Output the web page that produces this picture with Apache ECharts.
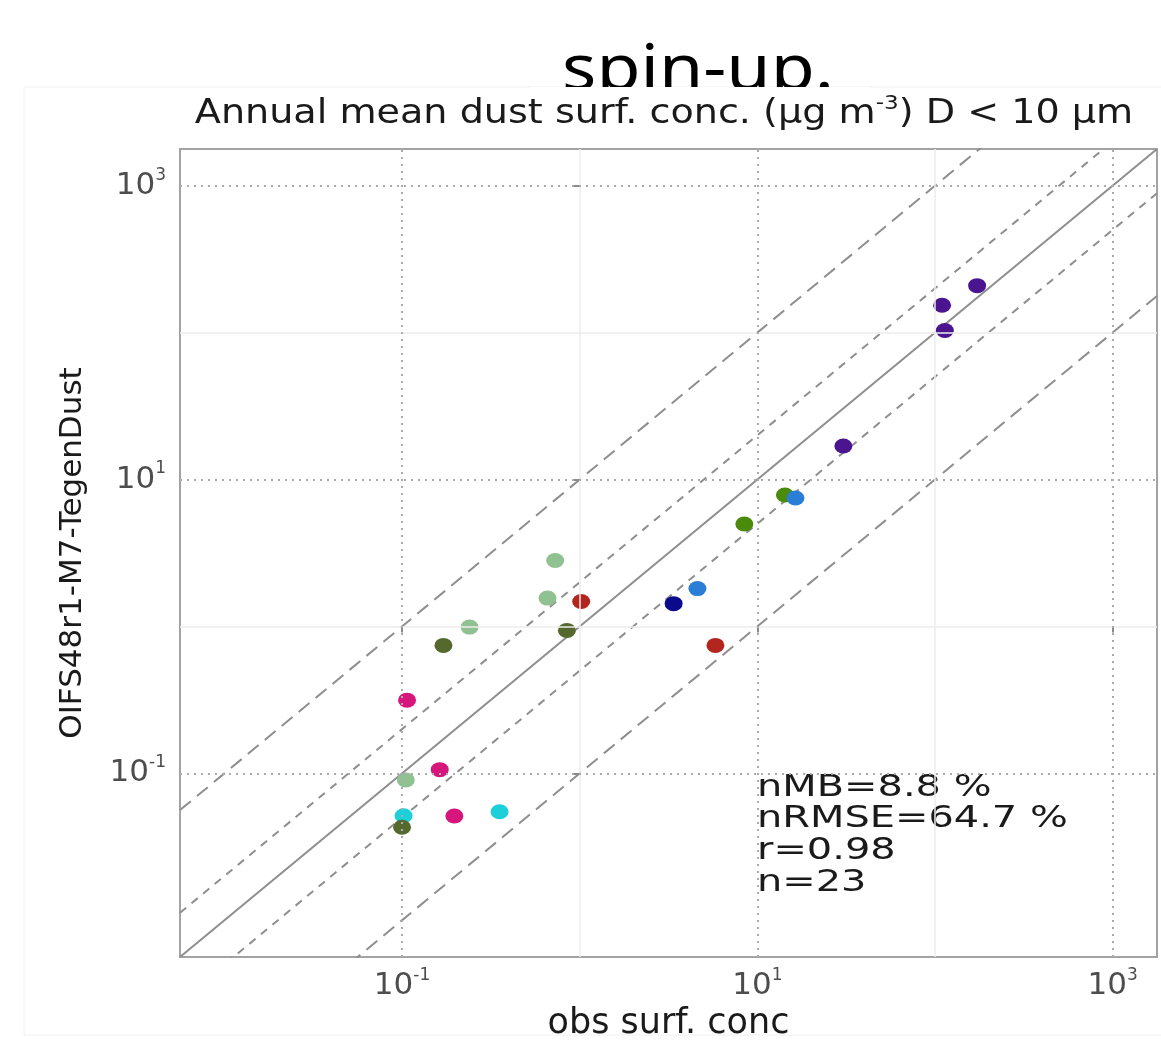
<!DOCTYPE html>
<html>
<head>
<meta charset="utf-8">
<script src="https://cdn.jsdelivr.net/npm/echarts@6/dist/echarts.min.js"></script>
<style>
html,body{margin:0;padding:0;background:#fff;}
#chart{width:1161px;height:1042px;}
</style>
</head>
<body>
<div id="chart"></div>
<script>
// ---- data (µg m-3) ----
const tickExponents = [-1, 1, 3];
const minorExponents = [0, 2];
const axisLimitsExp = [-2.25, 3.25];
const refFactors = [1, 2, 0.5, 10, 0.1];

const purpleObs = [172.7, 109.7, 113.7, 30.5];
const purpleMod = [208.9, 153.5, 103.3, 16.9];
const greenObs = [14.3, 8.45];
const greenMod = [7.84, 4.98];
const blueObs = [16.4, 4.60];
const blueMod = [7.48, 1.81];
const navyObs = [3.38];
const navyMod = [1.43];
const lightGreenObs = [0.728, 0.659, 0.240, 0.105];
const lightGreenMod = [2.81, 1.56, 0.99, 0.0901];
const redObs = [1.02, 5.81];
const redMod = [1.48, 0.743];
const magentaObs = [0.1067, 0.163, 0.197];
const magentaMod = [0.315, 0.106, 0.0513];
const cyanObs = [0.102, 0.354];
const cyanMod = [0.0515, 0.0548];
const oliveObs = [0.847, 0.171, 0.100];
const oliveMod = [0.94, 0.743, 0.0430];

const stats = ['nMB=8.8 %', 'nRMSE=64.7 %', 'r=0.98', 'n=23'];

const groups = [
  {name: 'purple', obs: purpleObs, mod: purpleMod, color: '#4b1590'},
  {name: 'green', obs: greenObs, mod: greenMod, color: '#4a8b0c'},
  {name: 'blue', obs: blueObs, mod: blueMod, color: '#2a7ed6'},
  {name: 'navy', obs: navyObs, mod: navyMod, color: '#0c0a8c'},
  {name: 'lightgreen', obs: lightGreenObs, mod: lightGreenMod, color: '#90c190'},
  {name: 'red', obs: redObs, mod: redMod, color: '#b3261f'},
  {name: 'magenta', obs: magentaObs, mod: magentaMod, color: '#d6167c'},
  {name: 'cyan', obs: cyanObs, mod: cyanMod, color: '#1ccfd8'},
  {name: 'olive', obs: oliveObs, mod: oliveMod, color: '#55692e'}
];

const lg = v => Math.log10(v);
const chart = echarts.init(document.getElementById('chart'));

const labelRich = {
  b: {fontFamily: 'DejaVu Sans', fontSize: 31, color: '#4d4d4d', lineHeight: 38},
  s: {fontFamily: 'DejaVu Sans', fontSize: 17, color: '#4d4d4d', verticalAlign: 'top', lineHeight: 38}
};
const expLabel = v => '{b|10}{s|' + Math.round(v) + '}';

const series = [];
// grid lines
series.push({
  type: 'line', data: [], z: 1, silent: true,
  markLine: {
    silent: true, symbol: 'none', label: {show: false}, animation: false,
    data: [].concat(
      minorExponents.map(e => ({xAxis: e, lineStyle: {color: '#ececec', width: 1.5, type: 'solid'}})),
      minorExponents.map(e => ({yAxis: e, lineStyle: {color: '#ececec', width: 1.5, type: 'solid'}})),
      tickExponents.map(e => ({xAxis: e, lineStyle: {color: '#ababab', width: 2, type: [2, 5]}})),
      tickExponents.map(e => ({yAxis: e, lineStyle: {color: '#ababab', width: 2, type: [2, 5]}}))
    )
  }
});
// reference lines (1:1, factor 2, factor 10)
refFactors.forEach(f => {
  const d = lg(f);
  let type = 'solid';
  if (Math.abs(Math.abs(d) - lg(2)) < 1e-6) type = [8, 7];
  if (Math.abs(Math.abs(d) - 1) < 1e-6) type = [14, 8];
  series.push({
    type: 'line', silent: true, symbol: 'none', z: 2, clip: true,
    data: [[axisLimitsExp[0], axisLimitsExp[0] + d], [axisLimitsExp[1], axisLimitsExp[1] + d]],
    lineStyle: {color: '#8e8e8e', width: 2, type: type}
  });
});
// points
groups.forEach(g => {
  series.push({
    name: g.name, type: 'scatter', z: 3,
    symbol: 'circle', symbolSize: [18, 15],
    itemStyle: {color: g.color, opacity: 1},
    data: g.obs.map((o, i) => [lg(o), lg(g.mod[i])])
  });
});

const option = {
  animation: false,
  backgroundColor: '#ffffff',
  grid: {left: 180, top: 149, width: 977, height: 808, containLabel: false, outerBoundsMode: 'none',
    show: true, borderColor: '#a3a3a3', borderWidth: 2, backgroundColor: '#ffffff', z: 0},
  xAxis: {
    type: 'value', min: axisLimitsExp[0], max: axisLimitsExp[1],
    name: 'obs surf. conc', nameLocation: 'middle', nameGap: 44,
    nameTextStyle: {fontFamily: 'DejaVu Sans', fontSize: 35, color: '#1a1a1a'},
    axisLine: {show: false},
    axisTick: {show: true, customValues: tickExponents, length: 6, lineStyle: {color: '#8a8a8a', width: 2}},
    axisLabel: {show: true, customValues: tickExponents, margin: 10, formatter: expLabel, rich: labelRich},
    splitLine: {show: false}
  },
  yAxis: {
    type: 'value', min: axisLimitsExp[0], max: axisLimitsExp[1],
    name: 'OIFS48r1-M7-TegenDust', nameLocation: 'middle', nameGap: 92,
    nameTextStyle: {fontFamily: 'DejaVu Sans', fontSize: 31, color: '#1a1a1a'},
    axisLine: {show: false},
    axisTick: {show: true, customValues: tickExponents, length: 6, lineStyle: {color: '#8a8a8a', width: 2}},
    axisLabel: {show: true, customValues: tickExponents, margin: 14, formatter: expLabel, rich: labelRich},
    splitLine: {show: false}
  },
  graphic: [
    {type: 'rect', z: 0, shape: {x: 24, y: 87, width: 1140, height: 948}, style: {fill: 'none', stroke: '#f0f0f0', lineWidth: 1}},
    {type: 'text', z: 1, x: 698, y: 72, scaleX: 1.12,
      style: {text: 'spin-up.', fontFamily: 'Noto Sans', fontSize: 64, fill: '#000', align: 'center', verticalAlign: 'middle'}},
    {type: 'rect', z: 2, shape: {x: 530, y: 87, width: 340, height: 26}, style: {fill: '#ffffff'}},
    {type: 'text', z: 3, x: 664, y: 114, scaleX: 1.155,
      style: {
        text: '{a|Annual mean dust surf. conc. (µg m}{s|-3}{a|) D < 10 µm}',
        align: 'center', verticalAlign: 'middle',
        rich: {
          a: {fontFamily: 'DejaVu Sans', fontSize: 33, fill: '#1a1a1a', lineHeight: 40},
          s: {fontFamily: 'DejaVu Sans', fontSize: 20, fill: '#1a1a1a', verticalAlign: 'top', lineHeight: 40}
        }
      }},
    {type: 'text', z: 3, x: 757, y: 772, scaleX: 1.33,
      style: {text: stats.join('\n'), fontFamily: 'DejaVu Sans', fontSize: 30, lineHeight: 31.7, fill: '#1a1a1a', align: 'left', verticalAlign: 'top'}}
  ],
  series: series
};
chart.setOption(option);
</script>
</body>
</html>
